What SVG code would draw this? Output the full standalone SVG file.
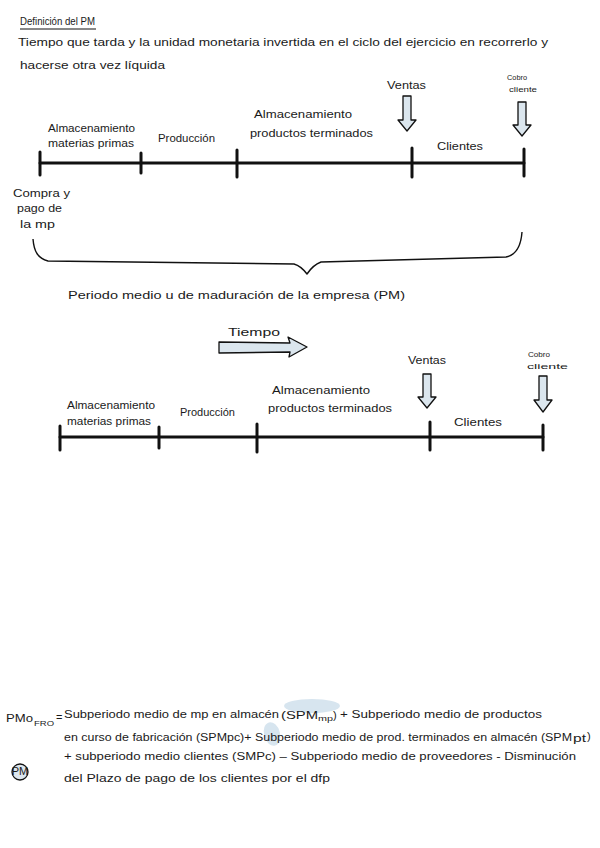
<svg xmlns="http://www.w3.org/2000/svg" width="600" height="848" viewBox="0 0 600 848">
<defs>
<style>
text{font-family:"Liberation Sans","DejaVu Sans",sans-serif;fill:#1a1a1a;font-size:11px}
.s{font-size:8px}
.m{font-size:10px}
.axis{stroke:#111;stroke-width:3;fill:none;stroke-linecap:round}
.tick{stroke:#111;stroke-width:3;stroke-linecap:round}
.dn{fill:#dbe6ee;stroke:#111;stroke-width:1.3;stroke-linejoin:round}
.br{fill:none;stroke:#111;stroke-width:1.4;stroke-linejoin:round}
.hl{fill:#c9dcea;opacity:0.75}
</style>
</defs>
<rect width="600" height="848" fill="#fff"/>

<g id="intro">
<text x="20" y="25" class="m" textLength="75" lengthAdjust="spacingAndGlyphs">Definición del PM</text>
<line x1="20" y1="29" x2="96" y2="29" stroke="#111" stroke-width="1"/>
<text x="18" y="46" font-size="12" textLength="530" lengthAdjust="spacingAndGlyphs">Tiempo que tarda y la unidad monetaria invertida en el ciclo del ejercicio en recorrerlo y</text>
<text x="20" y="69" font-size="12" textLength="145" lengthAdjust="spacingAndGlyphs">hacerse otra vez líquida</text>
</g>

<g id="timeline1">
<g id="t1-axis">
<line class="axis" x1="40" y1="163" x2="524" y2="163"/>
<line class="tick" x1="40" y1="152" x2="40" y2="175"/>
<line class="tick" x1="141" y1="153" x2="141" y2="173"/>
<line class="tick" x1="237" y1="150" x2="237" y2="177"/>
<line class="tick" x1="412" y1="148" x2="412" y2="177"/>
<line class="tick" x1="524" y1="149" x2="524" y2="176"/>
</g>
<g id="t1-mp"><text x="48" y="132" textLength="87" lengthAdjust="spacingAndGlyphs">Almacenamiento</text><text x="48" y="147" textLength="86" lengthAdjust="spacingAndGlyphs">materias primas</text></g>
<g id="t1-prod"><text x="158" y="142" textLength="57" lengthAdjust="spacingAndGlyphs">Producción</text></g>
<g id="t1-pt"><text x="254" y="118" textLength="98" lengthAdjust="spacingAndGlyphs">Almacenamiento</text><text x="250" y="137" textLength="123" lengthAdjust="spacingAndGlyphs">productos terminados</text></g>
<g id="t1-cli"><text x="437" y="150" textLength="46" lengthAdjust="spacingAndGlyphs">Clientes</text></g>
<g id="t1-ventas"><text x="387" y="89" class="m" textLength="39" lengthAdjust="spacingAndGlyphs">Ventas</text>
<path class="dn" d="M403,96 L411,96 L411,120 L416,120 L407,131 L398,120 L403,120 Z"/></g>
<g id="t1-cobro"><text x="507" y="80" class="s" textLength="20" lengthAdjust="spacingAndGlyphs">Cobro</text><text x="509" y="92" class="s" textLength="28" lengthAdjust="spacingAndGlyphs">cliente</text>
<path class="dn" d="M518,102 L526,102 L526,125 L531,125 L522,136 L513,125 L518,125 Z"/></g>
<g id="t1-compra"><text x="13" y="197" textLength="57" lengthAdjust="spacingAndGlyphs">Compra y</text><text x="17" y="212" textLength="45" lengthAdjust="spacingAndGlyphs">pago de</text><text x="20" y="228" textLength="35" lengthAdjust="spacingAndGlyphs">la mp</text></g>
<g id="t1-brace">
<path class="br" d="M33,239 C34,252 38,258 48,261 L294,264 Q301,266 307,274 Q313,265 321,262 L506,257 C516,255 521,246 522,232"/>
<text x="68" y="299" textLength="337" lengthAdjust="spacingAndGlyphs">Periodo medio u de maduración de la empresa (PM)</text>
</g>
</g>

<g id="tiempo">
<text x="228" y="336" font-size="13" textLength="52" lengthAdjust="spacingAndGlyphs">Tiempo</text>
<path class="dn" d="M219,342 L290,343 L288,337 L307,347 L289,357 L290,352 L219,353 Z"/>
</g>

<g id="timeline2">
<g id="t2-axis">
<line class="axis" x1="60" y1="437" x2="543" y2="437"/>
<line class="tick" x1="60" y1="426" x2="60" y2="450"/>
<line class="tick" x1="159" y1="427" x2="159" y2="448"/>
<line class="tick" x1="257" y1="424" x2="257" y2="452"/>
<line class="tick" x1="430" y1="422" x2="430" y2="450"/>
<line class="tick" x1="543" y1="425" x2="543" y2="450"/>
</g>
<g id="t2-mp"><text x="67" y="409" textLength="88" lengthAdjust="spacingAndGlyphs">Almacenamiento</text><text x="67" y="425" textLength="84" lengthAdjust="spacingAndGlyphs">materias primas</text></g>
<g id="t2-prod"><text x="180" y="416" textLength="55" lengthAdjust="spacingAndGlyphs">Producción</text></g>
<g id="t2-pt"><text x="272" y="394" textLength="98" lengthAdjust="spacingAndGlyphs">Almacenamiento</text><text x="268" y="412" textLength="124" lengthAdjust="spacingAndGlyphs">productos terminados</text></g>
<g id="t2-cli"><text x="454" y="426" textLength="48" lengthAdjust="spacingAndGlyphs">Clientes</text></g>
<g id="t2-ventas"><text x="408" y="364" class="m" textLength="38" lengthAdjust="spacingAndGlyphs">Ventas</text>
<path class="dn" d="M423,374 L431,374 L431,397 L436,397 L427,408 L418,397 L423,397 Z"/></g>
<g id="t2-cobro"><text x="528" y="357" class="s" textLength="22" lengthAdjust="spacingAndGlyphs">Cobro</text><text x="527" y="369" class="s" textLength="41" lengthAdjust="spacingAndGlyphs">cliente</text>
<path class="dn" d="M539,376 L547,376 L547,400 L552,400 L543,412 L534,400 L539,400 Z"/></g>
</g>

<g id="formula">
<ellipse class="hl" cx="312" cy="706" rx="28" ry="7"/>
<ellipse class="hl" cx="272" cy="734" rx="8" ry="12" transform="rotate(-15 272 734)"/>
<text x="6" y="722" font-size="11" textLength="27" lengthAdjust="spacingAndGlyphs">PMo</text>
<text x="34" y="726" class="s" textLength="20" lengthAdjust="spacingAndGlyphs">FRO</text>
<text x="56" y="721">=</text>
<text x="64" y="718" class="m" textLength="215" lengthAdjust="spacingAndGlyphs">Subperiodo medio de mp en almacén</text>
<text x="281" y="719" font-size="12" textLength="37" lengthAdjust="spacingAndGlyphs">(SPM</text>
<text x="318" y="721" class="s" textLength="15" lengthAdjust="spacingAndGlyphs">mp</text>
<text x="333" y="719" font-size="12">)</text>
<text x="340" y="718" class="m" textLength="202" lengthAdjust="spacingAndGlyphs">+ Subperiodo medio de productos</text>
<text x="64" y="741" class="m" textLength="508" lengthAdjust="spacingAndGlyphs">en curso de fabricación (SPMpc)+ Subperiodo medio de prod. terminados en almacén (SPM</text>
<text x="573" y="742" class="m" textLength="13" lengthAdjust="spacingAndGlyphs">pt</text>
<text x="587" y="740" font-size="12">)</text>
<text x="64" y="760" class="m" textLength="512" lengthAdjust="spacingAndGlyphs">+ subperiodo medio clientes (SMPc) – Subperiodo medio de proveedores - Disminución</text>
<text x="64" y="782" class="m" textLength="266" lengthAdjust="spacingAndGlyphs">del Plazo de pago de los clientes por el dfp</text>
</g>

<g id="pm-badge">
<circle cx="20" cy="772" r="8" fill="#dde6ee" stroke="#111" stroke-width="1.3"/>
<text x="20" y="774.5" font-size="6" text-anchor="middle">PM</text>
</g>
</svg>
